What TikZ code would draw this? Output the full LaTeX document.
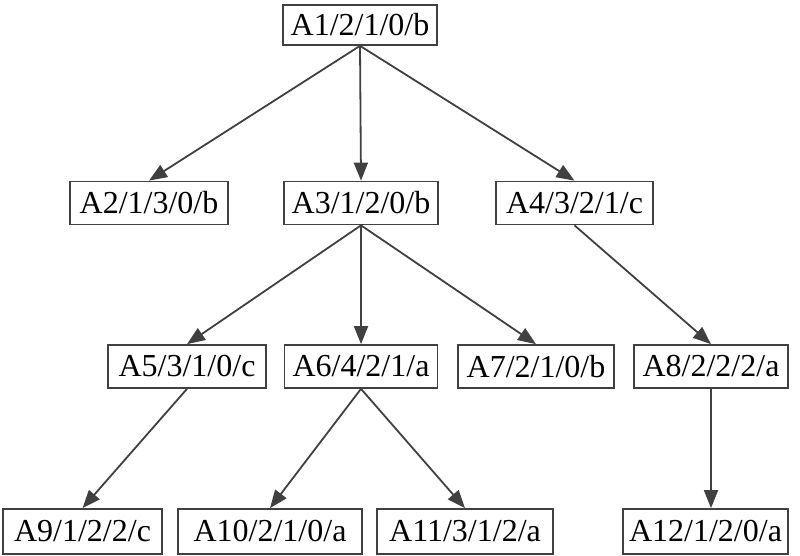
\documentclass[tikz,border=0pt]{standalone}
\usepackage{fontspec}
\setmainfont{Liberation Serif}
\usetikzlibrary{arrows.meta}
\definecolor{linegray}{HTML}{404040}
\tikzset{
  box/.style={draw=linegray, line width=1.7pt, fill=white, minimum height=43pt, inner sep=0pt,
    font=\fontsize{32}{36}\selectfont, text=black},
  edge/.style={draw=linegray, line width=1.8pt, -{Triangle[length=18pt,width=14pt]}}
}
\begin{document}
\begin{tikzpicture}[x=1pt,y=-1pt]
\useasboundingbox (0,0) rectangle (800,556);
\node[box, minimum width=154pt, minimum height=40pt] (a1) at (360,25) {A1/2/1/0/b};
\node[box, minimum width=158pt] (a2) at (149,203) {A2/1/3/0/b};
\node[box, minimum width=154pt] (a3) at (361,203) {A3/1/2/0/b};
\node[box, minimum width=157pt] (a4) at (574.5,203) {A4/3/2/1/c};
\node[box, minimum width=158pt] (a5) at (187,366.5) {A5/3/1/0/c};
\node[box, minimum width=153pt] (a6) at (361,366.5) {A6/4/2/1/a};
\node[box, minimum width=156pt] (a7) at (536,366.5) {A7/2/1/0/b};
\node[box, minimum width=154pt] (a8) at (711,366.5) {A8/2/2/2/a};
\node[box, minimum width=159pt, minimum height=45pt] (a9) at (82.5,531.5) {A9/1/2/2/c};
\node[box, minimum width=184pt, minimum height=45pt] (a10) at (270,531.5) {A10/2/1/0/a};
\node[box, minimum width=176pt, minimum height=45pt] (a11) at (465,531.5) {A11/3/1/2/a};
\node[box, minimum width=165pt, minimum height=45pt] (a12) at (705.5,531.5) {A12/1/2/0/a};
\draw[edge] (a1.south) -- (a2.north);
\draw[edge] (a1.south) -- (a3.north);
\draw[edge] (a1.south) -- (a4.north);
\draw[edge] (a3.south) -- (a5.north);
\draw[edge] (a3.south) -- (a6.north);
\draw[edge] (a3.south) -- (a7.north);
\draw[edge] (a4.south) -- (a8.north);
\draw[edge] (a5.south) -- (a9.north);
\draw[edge] (a6.south) -- (a10.north);
\draw[edge] (a6.south) -- (a11.north);
\draw[edge] (a8.south) -- (a8.south |- a12.north);
\end{tikzpicture}
\end{document}
